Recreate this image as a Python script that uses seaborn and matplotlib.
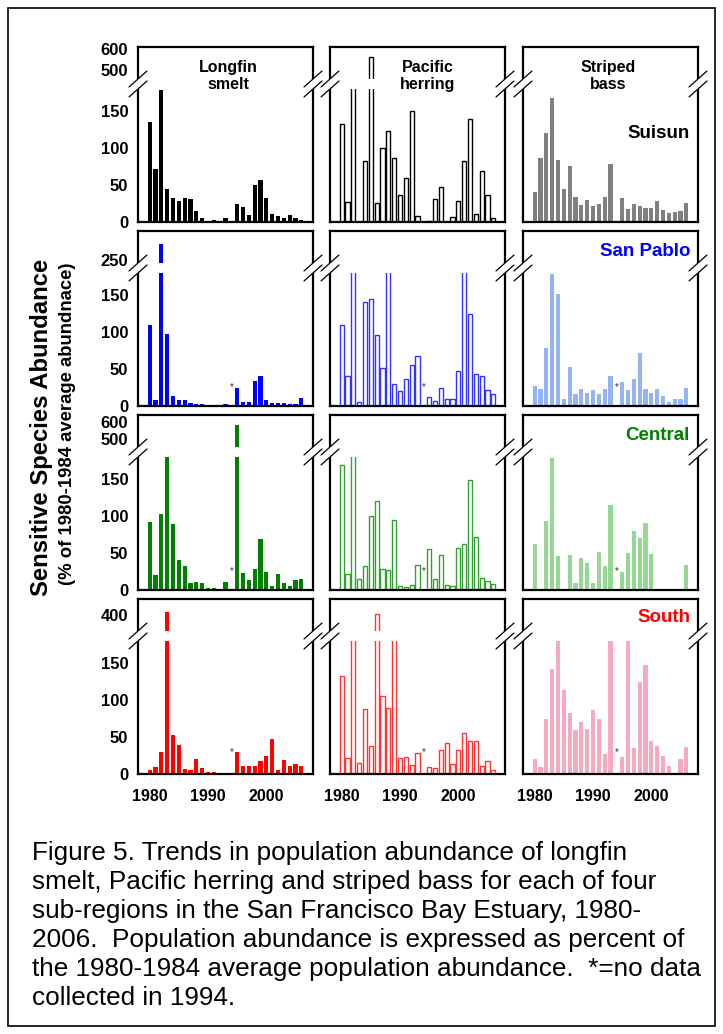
import numpy as np
import matplotlib
matplotlib.use("Agg")
import matplotlib.pyplot as plt
from matplotlib.patches import Rectangle, Polygon
from matplotlib.lines import Line2D
import seaborn as sns

sns.set_theme(style="white")
plt.rcParams["font.family"] = ["Liberation Sans", "DejaVu Sans"]
plt.rcParams["text.color"] = "black"
plt.rcParams["xtick.color"] = "black"
plt.rcParams["ytick.color"] = "black"
plt.rcParams["axes.labelcolor"] = "black"

# ---------------- data ----------------
years = list(range(1980, 2007))
nan = np.nan

species = ["Longfin\nsmelt", "Pacific\nherring", "Striped\nbass"]
regions = ["Suisun", "San Pablo", "Central", "South"]

longfin_suisun = [135, 72, 179, 45, 32, 29, 33, 31, 15, 5, 2, 3, 0, 5, nan, 24, 20, 10, 50, 57, 33, 11, 8, 5, 9, 5, 3]
herring_suisun = [132, 27, 300, 0, 82, 560, 26, 100, 123, 86, 36, 59, 150, 8, nan, 2, 31, 48, 0, 7, 29, 82, 139, 11, 69, 37, 5]
bass_suisun = [40, 87, 121, 168, 84, 44, 76, 34, 23, 30, 21, 25, 34, 78, nan, 32, 17, 25, 21, 19, 19, 28, 16, 12, 13, 15, 26]

longfin_sanpablo = [109, 8, 277, 98, 13, 8, 8, 4, 3, 3, 0, 0, 0, 3, nan, 24, 6, 6, 34, 41, 8, 4, 4, 4, 3, 3, 11]
herring_sanpablo = [110, 40, 200, 5, 141, 145, 96, 52, 200, 30, 20, 36, 56, 68, nan, 12, 7, 24, 10, 10, 48, 200, 125, 43, 40, 21, 16]
bass_sanpablo = [27, 23, 78, 179, 151, 9, 53, 16, 23, 17, 22, 16, 23, 41, nan, 33, 22, 36, 72, 23, 18, 23, 14, 5, 10, 10, 25]

longfin_central = [92, 20, 103, 300, 89, 41, 32, 10, 11, 9, 3, 3, 0, 11, nan, 580, 23, 14, 29, 69, 24, 6, 22, 10, 6, 14, 15]
herring_central = [169, 21, 300, 15, 32, 100, 121, 28, 27, 95, 6, 4, 7, 34, nan, 55, 15, 47, 7, 6, 57, 62, 149, 72, 16, 12, 8]
bass_central = [62, 0, 94, 179, 46, 0, 48, 9, 43, 37, 10, 51, 32, 115, nan, 25, 50, 80, 70, 91, 49, 0, 0, 0, 0, 0, 34]

longfin_south = [6, 9, 30, 415, 53, 39, 7, 6, 20, 8, 3, 3, 1, 0, nan, 30, 11, 11, 11, 18, 24, 47, 6, 19, 11, 13, 11]
herring_south = [132, 21, 300, 15, 88, 38, 405, 106, 90, 300, 21, 23, 12, 28, nan, 9, 8, 33, 42, 13, 33, 55, 44, 45, 11, 18, 5]
bass_south = [20, 10, 74, 142, 300, 114, 83, 59, 70, 61, 86, 75, 27, 300, nan, 23, 300, 35, 125, 148, 45, 38, 25, 11, 0, 20, 37]

series = [
    [longfin_suisun, herring_suisun, bass_suisun],
    [longfin_sanpablo, herring_sanpablo, bass_sanpablo],
    [longfin_central, herring_central, bass_central],
    [longfin_south, herring_south, bass_south],
]

# broken-axis ranges per row: (upper start, upper end, upper tick labels)
lower_top = 180
upper_ranges = [(455, 610, [500, 600]), (245, 300, [250]), (455, 640, [500, 600]), (330, 470, [400])]
lower_ticks = [0, 50, 100, 150]
x_ticks = [1980, 1990, 2000]

solid_colors = [["#000000", "#000000", "#808080"],
                ["#0000FF", "#3333FF", "#94B4F2"],
                ["#008000", "#33A033", "#96D796"],
                ["#FF0000", "#FF3333", "#F5AABF"]]
region_colors = ["#000000", "#0000FF", "#008000", "#FF0000"]
hollow = [False, True, False]
star_rows = [False, True, True, True]
star_height = [0, 25, 25, 29]

# ---------------- layout ----------------
W, H = 723, 1034
fig = plt.figure(figsize=(W / 100, H / 100), dpi=100)
fig.patch.set_facecolor("white")


def fx(x):
    return x / W


def fy(y):
    return 1 - y / H


col_left = [138, 330, 523]
row_bottom = [222, 406, 590, 774]
PW, PH = 175, 175
hL, hG, hU = 133, 10, 32


def make_map(xp, fp):
    xp = np.asarray(xp, float)
    fp = np.asarray(fp, float)

    def f(v):
        v = np.asarray(v, float)
        out = np.interp(v, xp, fp)
        lo = v < xp[0]
        hi = v > xp[-1]
        out = np.where(lo, fp[0] + (v - xp[0]) * (fp[1] - fp[0]) / (xp[1] - xp[0]), out)
        out = np.where(hi, fp[-1] + (v - xp[-1]) * (fp[-1] - fp[-2]) / (xp[-1] - xp[-2]), out)
        return out
    return f


for r in range(4):
    u0, u1, uticks = upper_ranges[r]
    xp = [0, lower_top, u0, u1]
    fp = [0, hL, hL + hG, hL + hG + hU]
    fwd = make_map(xp, fp)
    inv = make_map(fp, xp)
    for c in range(3):
        left = col_left[c]
        bottom = row_bottom[r]
        ax = fig.add_axes([fx(left), fy(bottom), PW / W, PH / H])
        vals = series[r][c]
        col = solid_colors[r][c]
        if hollow[c]:
            sns.barplot(x=years, y=vals, native_scale=True, ax=ax, fill=False,
                        color=col, linewidth=1.0, width=0.7, errorbar=None, saturation=1)
        else:
            sns.barplot(x=years, y=vals, native_scale=True, ax=ax,
                        color=col, linewidth=0, width=0.72, errorbar=None, saturation=1)
        for p in ax.patches:
            p.set_zorder(1)
        ax.set_yscale("function", functions=(fwd, inv))
        ax.set_ylim(0, u1)
        ax.set_xlim(1978.0, 2008.0)
        ax.axhspan(lower_top, u0, facecolor="white", edgecolor="none", zorder=2)
        ax.set_yticks(lower_ticks + uticks)
        ax.set_xticks(x_ticks)
        ax.minorticks_off()
        ax.set_xlabel("")
        ax.set_ylabel("")
        for s in ax.spines.values():
            s.set_visible(True)
            s.set_color("black")
            s.set_linewidth(1.6)
            s.set_zorder(3)
        ax.tick_params(axis="both", direction="out", length=3, width=1.2, color="black",
                       labelcolor="black", pad=4)
        if c == 0:
            ax.set_yticklabels([str(t) for t in lower_ticks + uticks], fontweight="bold", fontsize=12)
        else:
            ax.set_yticklabels([])
        if r == 3:
            ax.set_xticklabels([str(t) for t in x_ticks], fontweight="bold", fontsize=11.5)
            ax.tick_params(axis="x", pad=8)
        else:
            ax.set_xticklabels([])
        ax.grid(False)
        if star_rows[r]:
            ax.text(1994, star_height[r], "*", ha="center", va="center", fontsize=7, color="#333333")

        # break marks on both spines
        y_low = bottom - hL
        y_up = bottom - hL - hG
        for xs in (left, left + PW):
            d = 8
            poly = Polygon([(fx(xs - 9), fy(y_low + d)), (fx(xs + 9), fy(y_low - d)),
                            (fx(xs + 9), fy(y_up - d)), (fx(xs - 9), fy(y_up + d))],
                           closed=True, facecolor="white", edgecolor="none",
                           transform=fig.transFigure, zorder=10)
            fig.add_artist(poly)
            for yy in (y_low, y_up):
                fig.add_artist(Line2D([fx(xs - 9), fx(xs + 9)], [fy(yy + d), fy(yy - d)],
                                      color="black", lw=0.9, transform=fig.transFigure, zorder=11))

# column titles
title_x = [228, 428, 608]
for c in range(3):
    fig.text(fx(title_x[c]), fy(76), species[c], ha="center", va="center",
             fontsize=11.5, fontweight="bold", linespacing=1.1, color="black")

# region labels
region_y = [134, 251, 436, 618]
for r in range(4):
    fig.text(fx(690), fy(region_y[r]), regions[r], ha="right", va="center",
             fontsize=13.5, fontweight="bold", color=region_colors[r])

# y-axis labels
fig.text(fx(42), fy(427), "Sensitive Species Abundance", rotation=90, ha="center", va="center",
         fontsize=17.2, fontweight="bold", color="black")
fig.text(fx(68), fy(424), "(% of 1980-1984 average abundnace)", rotation=90, ha="center",
         va="center", fontsize=13.3, fontweight="bold", color="black")

# caption
caption = ["Figure 5. Trends in population abundance of longfin",
           "smelt, Pacific herring and striped bass for each of four",
           "sub-regions in the San Francisco Bay Estuary, 1980-",
           "2006.  Population abundance is expressed as percent of",
           "the 1980-1984 average population abundance.  *=no data",
           "collected in 1994."]
for i, line in enumerate(caption):
    fig.text(fx(32), fy(853 + 29 * i), line, ha="left", va="center", fontsize=18.8, color="black")

# outer frame
fig.add_artist(Rectangle((fx(8), fy(1026)), fx(715) - fx(8), fy(8) - fy(1026), fill=False,
                         edgecolor="black", lw=1.2, transform=fig.transFigure))

fig.savefig("out.png", dpi=100, facecolor="white")
